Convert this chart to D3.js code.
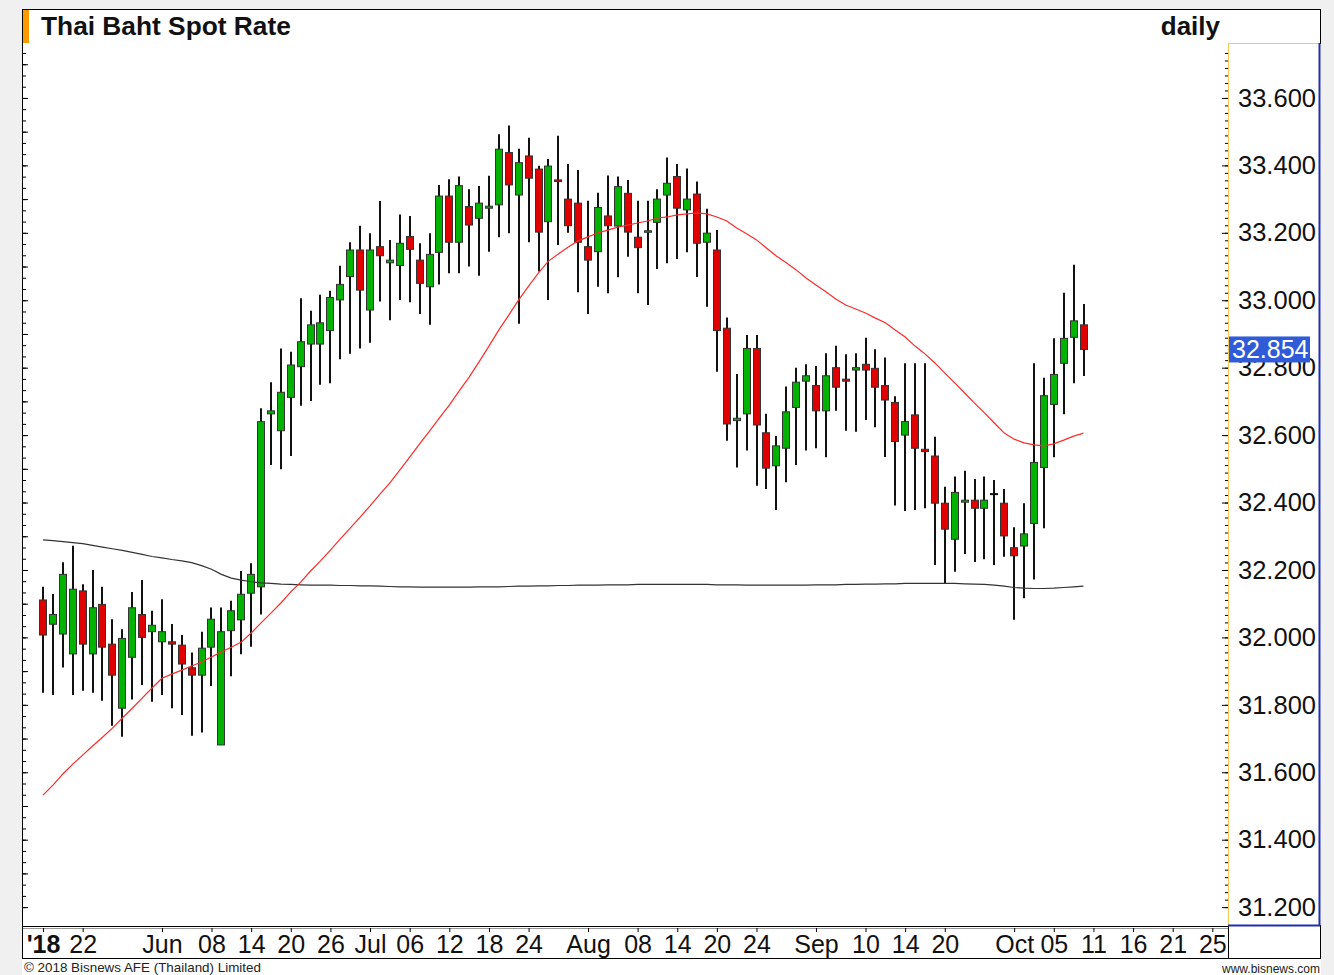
<!DOCTYPE html>
<html>
<head>
<meta charset="utf-8">
<script src="https://cdn.jsdelivr.net/npm/d3@7"></script>
<style>
  body { margin: 0; background: #f0f0f0; }
  svg { display: block; font-family: "Liberation Sans", Arial, sans-serif; }
</style>
</head>
<body>
<svg width="1334" height="975"></svg>
<script>
(function (d3) {
    'use strict';

    // daily USD/THB candles, index 0 = 16 May 2018 ... 105 = 10 Oct 2018
    const open = [32.111,32.039,32.010,31.951,32.138,31.951,32.098,31.980,31.790,31.941,
        32.068,32.017,31.987,31.987,31.977,31.910,31.888,31.971,31.681,32.020,
        32.052,32.131,32.150,32.663,32.613,32.712,32.803,32.870,32.870,32.910,
        33.001,33.070,33.149,32.971,33.159,33.111,33.103,33.189,33.119,33.040,
        33.142,33.309,33.172,33.278,33.243,33.273,33.283,33.438,33.312,33.428,
        33.389,33.233,33.357,33.300,33.288,33.159,33.144,33.250,33.220,33.317,
        33.187,33.202,33.231,33.312,33.367,33.268,33.315,33.172,33.149,32.917,
        32.643,32.663,32.857,32.607,32.509,32.561,32.682,32.760,32.747,32.672,
        32.800,32.766,32.793,32.810,32.798,32.747,32.697,32.600,32.660,32.558,
        32.538,32.398,32.291,32.401,32.407,32.383,32.425,32.398,32.266,32.271,
        32.338,32.504,32.691,32.813,32.890,32.927];
    const high = [32.150,32.129,32.223,32.272,32.158,32.200,32.150,32.054,32.024,32.135,
        32.170,32.079,32.113,32.040,32.007,31.955,32.017,32.089,32.089,32.109,
        32.197,32.220,32.680,32.757,32.857,32.847,33.006,32.969,33.016,33.028,
        33.102,33.172,33.221,33.199,33.294,33.179,33.254,33.250,33.169,33.199,
        33.342,33.359,33.367,33.329,33.339,33.369,33.492,33.518,33.449,33.482,
        33.399,33.419,33.488,33.404,33.386,33.295,33.319,33.370,33.367,33.357,
        33.295,33.295,33.329,33.423,33.404,33.391,33.352,33.271,33.208,32.949,
        32.781,32.897,32.897,32.663,32.597,32.744,32.800,32.810,32.805,32.843,
        32.865,32.840,32.843,32.889,32.855,32.830,32.715,32.813,32.813,32.813,
        32.595,32.447,32.477,32.494,32.470,32.477,32.467,32.440,32.327,32.398,
        32.813,32.770,32.887,33.022,33.105,32.989];
    const low = [31.836,31.829,31.911,31.829,31.842,31.836,31.812,31.738,31.705,31.816,
        31.859,31.809,31.829,31.790,31.770,31.708,31.718,31.856,31.681,31.885,
        31.950,31.972,32.068,32.511,32.499,32.538,32.687,32.701,32.749,32.754,
        32.825,32.841,32.857,32.874,32.996,32.941,33.001,32.994,32.959,32.927,
        33.047,33.080,33.080,33.100,33.073,33.144,33.187,33.199,32.930,33.172,
        33.085,33.001,33.164,33.200,33.024,32.959,33.040,33.021,33.068,33.129,
        33.021,32.986,33.093,33.110,33.122,33.142,33.069,32.981,32.788,32.583,
        32.504,32.554,32.450,32.440,32.378,32.460,32.511,32.554,32.561,32.534,
        32.672,32.613,32.610,32.645,32.623,32.535,32.391,32.375,32.378,32.383,
        32.215,32.160,32.195,32.247,32.224,32.232,32.215,32.239,32.052,32.116,
        32.172,32.324,32.534,32.662,32.754,32.775];
    const close = [32.007,32.068,32.187,32.143,31.980,32.088,31.971,31.888,31.997,32.088,
        32.000,32.036,32.017,31.980,31.921,31.888,31.968,32.054,32.017,32.079,
        32.128,32.187,32.640,32.672,32.727,32.808,32.877,32.927,32.933,33.008,
        33.047,33.149,33.030,33.149,33.132,33.119,33.169,33.151,33.050,33.136,
        33.309,33.172,33.340,33.223,33.288,33.279,33.448,33.342,33.408,33.362,
        33.202,33.398,33.352,33.221,33.172,33.119,33.275,33.221,33.337,33.202,
        33.156,33.206,33.300,33.347,33.273,33.300,33.169,33.199,32.910,32.633,
        32.650,32.857,32.630,32.502,32.568,32.669,32.757,32.776,32.672,32.776,
        32.742,32.760,32.800,32.793,32.742,32.704,32.581,32.640,32.561,32.551,
        32.398,32.321,32.430,32.407,32.383,32.407,32.425,32.301,32.242,32.307,
        32.519,32.717,32.780,32.887,32.939,32.854];

    // moving averages
    const maRed = [31.532,31.562,31.595,31.624,31.651,31.678,31.704,31.731,31.761,31.790,
        31.820,31.850,31.879,31.891,31.903,31.915,31.927,31.942,31.957,31.971,
        31.986,32.013,32.043,32.072,32.102,32.135,32.164,32.197,32.227,32.259,
        32.292,32.324,32.357,32.390,32.425,32.458,32.496,32.535,32.574,32.612,
        32.651,32.689,32.731,32.772,32.817,32.864,32.912,32.956,33.001,33.042,
        33.081,33.116,33.137,33.158,33.176,33.188,33.200,33.208,33.217,33.223,
        33.229,33.235,33.244,33.247,33.253,33.256,33.259,33.256,33.247,33.235,
        33.214,33.197,33.179,33.155,33.131,33.111,33.090,33.066,33.045,33.025,
        33.004,32.986,32.974,32.962,32.947,32.933,32.912,32.891,32.864,32.841,
        32.814,32.784,32.755,32.725,32.695,32.666,32.636,32.606,32.588,32.577,
        32.571,32.568,32.574,32.585,32.597,32.606];
    const maBlack = [32.289,32.287,32.284,32.281,32.278,32.273,32.268,32.263,32.258,32.252,
        32.246,32.240,32.236,32.231,32.227,32.222,32.213,32.202,32.187,32.176,
        32.170,32.165,32.162,32.160,32.158,32.157,32.156,32.155,32.155,32.155,
        32.154,32.154,32.153,32.153,32.152,32.151,32.150,32.150,32.149,32.149,
        32.149,32.149,32.149,32.149,32.150,32.150,32.150,32.151,32.152,32.152,
        32.153,32.153,32.154,32.154,32.155,32.155,32.155,32.156,32.156,32.156,
        32.157,32.157,32.157,32.157,32.157,32.157,32.157,32.157,32.156,32.156,
        32.156,32.155,32.155,32.155,32.155,32.155,32.155,32.155,32.156,32.156,
        32.156,32.157,32.157,32.158,32.158,32.159,32.159,32.160,32.160,32.160,
        32.160,32.160,32.160,32.159,32.158,32.157,32.155,32.152,32.148,32.146,
        32.145,32.145,32.146,32.148,32.150,32.152];

    // date axis
    const tickIdx = [0,4,12,17,21,25,29,33,37,41,45,49,55,60,64,68,72,78,83,87,91,98,102,106,110,114,118];
    const tickLabels = ["'18","22","Jun","08","14","20","26","Jul","06","12","18","24",
        "Aug","08","14","20","24","Sep","10","14","20","Oct","05","11","16","21","25"];
    const priceLabels = [31.2,31.4,31.6,31.8,32.0,32.2,32.4,32.6,32.8,33.0,33.2,33.4,33.6];
    const lastPrice = 32.854;

    const svg = d3.select('svg');
    const left = 23, right = 1228, top = 44, bottom = 925;

    const x = d3.scaleLinear().domain([-2.022, 119.58]).range([left, right]);
    const y = d3.scaleLinear().domain([31.147, 33.760]).range([bottom, top]);

    // white sheet + frame
    svg.append('rect').attr('x', 22).attr('y', 9).attr('width', 1299).attr('height', 966).attr('fill', '#fff');
    svg.append('rect').attr('x', 23).attr('y', 10).attr('width', 6).attr('height', 33).attr('fill', '#ff9900');

    const frame = svg.append('g').attr('stroke', '#000').attr('stroke-width', 1);
    frame.append('line').attr('x1', 22).attr('x2', 1321).attr('y1', 9.5).attr('y2', 9.5);
    frame.append('line').attr('x1', 22.5).attr('x2', 22.5).attr('y1', 9).attr('y2', 959);
    frame.append('line').attr('x1', 1320.5).attr('x2', 1320.5).attr('y1', 9).attr('y2', 44);
    frame.append('line').attr('x1', 1320.5).attr('x2', 1320.5).attr('y1', 925).attr('y2', 959);
    frame.append('line').attr('x1', 22).attr('x2', 1228).attr('y1', 926.5).attr('y2', 926.5);
    frame.append('line').attr('x1', 22).attr('x2', 1321).attr('y1', 958.5).attr('y2', 958.5);
    frame.append('line').attr('x1', 1228.5).attr('x2', 1228.5).attr('y1', 925).attr('y2', 959);
    svg.append('line').attr('x1', 23).attr('x2', 1228).attr('y1', 928.5).attr('y2', 928.5)
        .attr('stroke', '#999');

    // price panel border
    svg.append('line').attr('x1', 1228.5).attr('x2', 1228.5).attr('y1', 43).attr('y2', 926)
        .attr('stroke', '#f3c95a');
    svg.append('line').attr('x1', 1228).attr('x2', 1320).attr('y1', 43.5).attr('y2', 43.5)
        .attr('stroke', '#f3c95a');
    svg.append('line').attr('x1', 1319.5).attr('x2', 1319.5).attr('y1', 43).attr('y2', 926)
        .attr('stroke', '#1f2fb0').attr('stroke-width', 2);
    svg.append('line').attr('x1', 1228).attr('x2', 1320).attr('y1', 925.5).attr('y2', 925.5)
        .attr('stroke', '#1f2fb0').attr('stroke-width', 2);

    // titles
    svg.append('text').attr('x', 41).attr('y', 35).text('Thai Baht Spot Rate')
        .attr('font-size', 26.3).attr('font-weight', 'bold').attr('fill', '#111');
    svg.append('text').attr('x', 1220).attr('y', 35).text('daily').attr('text-anchor', 'end')
        .attr('font-size', 26).attr('font-weight', 'bold').attr('fill', '#111');

    // left edge ticks
    const leftMinor = d3.range(0, 80).map(k => 31.2 + k * 0.1 / 3).filter(v => v < 33.75);
    svg.append('g').attr('transform', `translate(${left},0)`)
        .call(d3.axisRight(y).tickValues(leftMinor).tickSize(3).tickFormat(''))
        .call(g => g.select('.domain').remove());
    svg.append('g').attr('transform', `translate(${left},0)`)
        .call(d3.axisRight(y).tickValues(d3.range(0, 26).map(k => 31.2 + k * 0.1)).tickSize(5).tickFormat(''))
        .call(g => g.select('.domain').remove());

    // right axis ticks + labels
    const rightMinor = d3.range(0, 120).map(k => 31.2 + k * 0.2 / 9).filter(v => v < 33.75);
    svg.append('g').attr('transform', `translate(${right},0)`)
        .call(d3.axisLeft(y).tickValues(rightMinor).tickSize(3).tickFormat(''))
        .call(g => g.select('.domain').remove());
    svg.append('g').attr('transform', `translate(${right},0)`)
        .call(d3.axisLeft(y).tickValues(priceLabels).tickSize(6).tickFormat(''))
        .call(g => g.select('.domain').remove());
    svg.append('g').attr('transform', `translate(${right + 8},0)`)
        .call(d3.axisRight(y).tickValues(priceLabels).tickSize(0).tickPadding(2).tickFormat(d3.format('.3f')))
        .call(g => g.select('.domain').remove())
        .call(g => g.selectAll('text').attr('font-size', 25.5).attr('fill', '#111')
            .attr('font-family', '"Liberation Sans", Arial, sans-serif'));

    // date axis
    svg.append('g').attr('transform', `translate(0,928)`)
        .call(d3.axisBottom(x).tickValues(tickIdx).tickSize(4).tickPadding(3)
            .tickFormat((d, k) => tickLabels[k]))
        .call(g => g.select('.domain').remove())
        .call(g => g.selectAll('text').attr('font-size', 25).attr('fill', '#111')
            .attr('font-family', '"Liberation Sans", Arial, sans-serif')
            .attr('font-weight', (d, k) => k === 0 ? 'bold' : 'normal'));

    // candles
    const plot = svg.append('g');
    const candles = open.map((o, i) => ({ i, o, h: high[i], l: low[i], c: close[i] }));
    const cx = d => Math.round(x(d.i));

    plot.selectAll('line.wick').data(candles).enter().append('line')
        .attr('class', 'wick')
        .attr('x1', cx).attr('x2', cx)
        .attr('y1', d => y(d.h)).attr('y2', d => y(d.l))
        .attr('stroke', '#111').attr('stroke-width', 2);

    plot.selectAll('rect.body').data(candles.filter(d => d.o !== d.c)).enter().append('rect')
        .attr('class', 'body')
        .attr('x', d => cx(d) - 3.5)
        .attr('width', 7)
        .attr('y', d => y(Math.max(d.o, d.c)))
        .attr('height', d => Math.max(1.5, Math.abs(y(d.o) - y(d.c))))
        .attr('fill', d => d.c > d.o ? '#00b300' : '#e00000')
        .attr('stroke', '#333').attr('stroke-width', 1);

    plot.selectAll('rect.doji').data(candles.filter(d => d.o === d.c)).enter().append('rect')
        .attr('class', 'doji')
        .attr('x', d => cx(d) - 4).attr('width', 8)
        .attr('y', d => y(d.o) - 1).attr('height', 2)
        .attr('fill', '#111');

    // moving averages
    const line = d3.line().x((d, i) => x(i)).y(d => y(d));
    plot.append('path').datum(maBlack).attr('d', line)
        .attr('fill', 'none').attr('stroke', '#333').attr('stroke-width', 1.2);
    plot.append('path').datum(maRed).attr('d', line)
        .attr('fill', 'none').attr('stroke', '#ff2a2a').attr('stroke-width', 1.2);

    // last price tag (sits over the 32.800 label, as in the original)
    const tag = svg.append('g').attr('transform', `translate(1229,${y(lastPrice) - 13})`);
    tag.append('rect').attr('width', 81).attr('height', 26).attr('fill', '#2f5bd8');
    tag.append('text').attr('x', 3).attr('y', 22).text(d3.format('.3f')(lastPrice))
        .attr('font-size', 25).attr('fill', '#fff');

    // footer
    svg.append('text').attr('x', 24).attr('y', 972).text('\u00a9 2018 Bisnews AFE (Thailand) Limited')
        .attr('font-size', 13.4).attr('fill', '#222');
    svg.append('text').attr('x', 1320).attr('y', 973).attr('text-anchor', 'end').text('www.bisnews.com')
        .attr('font-size', 12).attr('fill', '#222');
}(d3));
</script>
</body>
</html>
